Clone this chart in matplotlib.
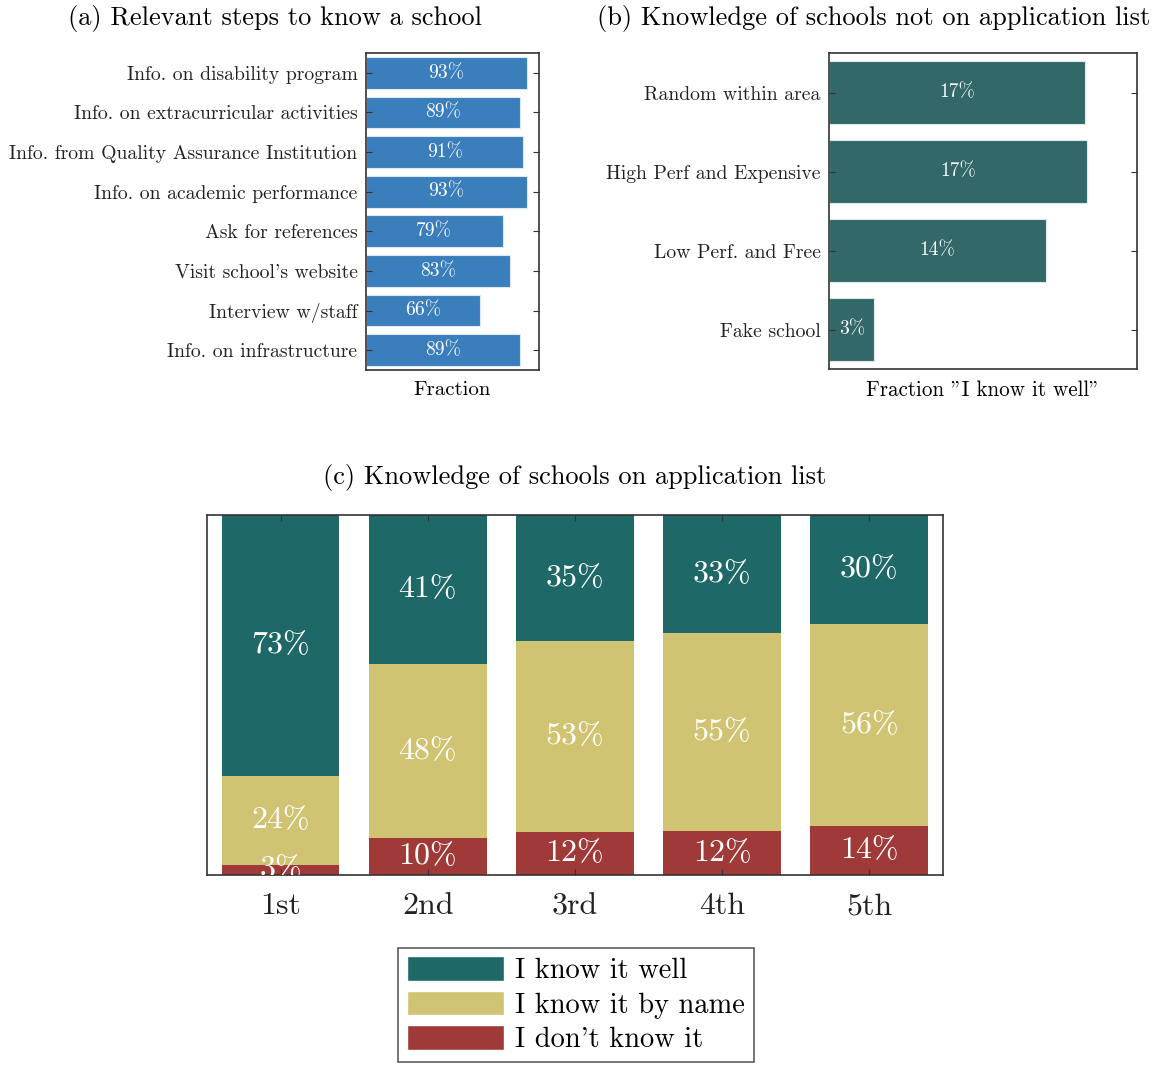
import matplotlib
matplotlib.use('Agg')
import matplotlib.pyplot as plt
from matplotlib.patches import Patch
import numpy as np

plt.rcParams['font.family'] = ['cmr10', 'DejaVu Serif']
plt.rcParams['axes.formatter.use_mathtext'] = True
plt.rcParams['mathtext.fontset'] = 'cm'

# (a) steps parents take to know a school
steps = ['Info. on disability program', 'Info. on extracurricular activities',
         'Info. from Quality Assurance Institution', 'Info. on academic performance',
         'Ask for references', "Visit school's website", 'Interview w/staff',
         'Info. on infrastructure']
steps_frac = [0.93, 0.89, 0.91, 0.93, 0.79, 0.83, 0.66, 0.89]

# (b) schools that are not on the application list
fake_types = ['Random within area', 'High Perf and Expensive', 'Low Perf. and Free', 'Fake school']
fake_frac = [0.169, 0.170, 0.143, 0.030]

# (c) knowledge by preference rank
ranks = ['1st', '2nd', '3rd', '4th', '5th']
dont_know = [2.9, 10.3, 11.9, 12.2, 13.6]
by_name = [24.5, 48.3, 53.1, 55.0, 56.1]
know_well = [72.6, 41.4, 35.0, 32.8, 30.3]
levels = ['I know it well', 'I know it by name', "I don't know it"]

c_well = '#1e6867'
c_name = '#d0c371'
c_dont = '#a03a38'
c_blue = '#3a7ebb'
c_teal = '#336868'
spine_col = '#333333'

fig = plt.figure(figsize=(11.61, 10.66), dpi=100)

ax_a = fig.add_axes([0.3152, 0.6529, 0.1490, 0.2974])
ax_b = fig.add_axes([0.7140, 0.6538, 0.2653, 0.2964])
ax_c = fig.add_axes([0.1783, 0.1792, 0.6339, 0.3377])


def style_axis(ax, vertical, pad=5):
    for s in ax.spines.values():
        s.set_color(spine_col)
        s.set_linewidth(1.2)
    if vertical:
        ax.tick_params(axis='y', direction='in', left=True, right=True, length=4,
                       color=spine_col, labelcolor='#222222', pad=pad)
        ax.tick_params(axis='x', bottom=False, labelbottom=False)
    else:
        ax.tick_params(axis='x', direction='in', top=True, bottom=True, length=4,
                       color=spine_col, labelcolor='#222222', pad=pad)
        ax.tick_params(axis='y', left=False, labelleft=False)


# panel a
ya = np.arange(len(steps))
ax_a.barh(ya, steps_frac, height=0.8, color=c_blue, edgecolor='#dce8f4', linewidth=0.8)
for y, v in zip(ya, steps_frac):
    ax_a.text(v / 2, y, f'{round(v * 100)}%', color='white', ha='center', va='center', fontsize=14)
ax_a.set_yticks(ya)
ax_a.set_yticklabels(steps, fontsize=14.2)
ax_a.set_ylim(len(steps) - 0.5, -0.5)
ax_a.set_xlim(0, 1.0)
ax_a.set_xlabel('Fraction', fontsize=15, labelpad=8)
style_axis(ax_a, True, pad=6)

# panel b
yb = np.arange(len(fake_types))
ax_b.barh(yb, fake_frac, height=0.8, color=c_teal, edgecolor='#dde8e8', linewidth=0.8)
for y, v in zip(yb, fake_frac):
    ax_b.text(v / 2, y, f'{round(v * 100)}%', color='white', ha='center', va='center', fontsize=14)
ax_b.set_yticks(yb)
ax_b.set_yticklabels(fake_types, fontsize=14.2)
ax_b.set_ylim(len(fake_types) - 0.5, -0.5)
ax_b.set_xlim(0, 0.203)
ax_b.set_xlabel('Fraction "I know it well"', fontsize=15.2, labelpad=8)
style_axis(ax_b, True, pad=6)

# panel c, stacked bars
xc = np.arange(len(ranks))
bottoms = np.zeros(len(ranks))
for vals, col in [(dont_know, c_dont), (by_name, c_name), (know_well, c_well)]:
    vals = np.array(vals)
    ax_c.bar(xc, vals, width=0.8, bottom=bottoms, color=col, linewidth=0)
    for x, b, v in zip(xc, bottoms, vals):
        ax_c.text(x, b + v / 2, f'{round(v)}%', color='white', ha='center', va='center',
                  fontsize=23, clip_on=True)
    bottoms += vals
ax_c.set_xticks(xc)
ax_c.set_xticklabels(ranks, fontsize=23)
ax_c.set_xlim(-0.5, len(ranks) - 0.5)
ax_c.set_ylim(0, 100)
style_axis(ax_c, False, pad=13)

# titles centred over each panel including its labels
fig.text(0.2369, 0.983, '(a) Relevant steps to know a school', ha='center', va='center', fontsize=19)
fig.text(0.7528, 0.983, '(b) Knowledge of schools not on application list', ha='center', va='center', fontsize=19)
fig.text(0.4953, 0.5516, '(c) Knowledge of schools on application list', ha='center', va='center', fontsize=19)

handles = [Patch(facecolor=c, edgecolor='white') for c in (c_well, c_name, c_dont)]
leg = fig.legend(handles, levels, loc='center', bbox_to_anchor=(0.4961, 0.0575), fontsize=20.5,
                 handlelength=3.4, handleheight=0.95, frameon=True, fancybox=False,
                 borderpad=0.3, labelspacing=0.22, handletextpad=0.4)
leg.get_frame().set_edgecolor(spine_col)
leg.get_frame().set_linewidth(1.2)

fig.savefig('out.png', dpi=100)
